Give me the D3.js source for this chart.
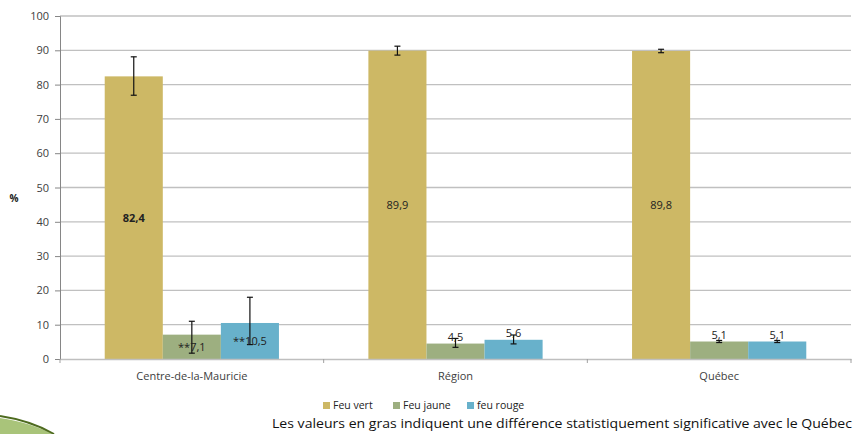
<!DOCTYPE html>
<html><head><meta charset="utf-8">
<script src="https://cdn.jsdelivr.net/npm/d3@7"></script>
<style>body{margin:0;background:#fff;}svg{display:block;font-family:"Open Sans",sans-serif;}</style>
</head><body><svg id="c" width="856" height="434"></svg>
<script>
const categories = ["Centre-de-la-Mauricie", "Région", "Québec"];
const series = ["Feu vert", "Feu jaune", "feu rouge"];
const colors = ["#CDB865", "#9DAF80", "#68B1CB"];
const feuVert = [82.4, 89.9, 89.8];
const feuJaune = [7.1, 4.5, 5.1];
const feuRouge = [10.5, 5.6, 5.1];
const errLow = [[76.9, 88.6, 89.3], [1.7, 3.4, 4.8], [4.2, 4.4, 4.8]];
const errHigh = [[88.1, 91.2, 90.3], [11.0, 6.0, 5.4], [18.0, 7.0, 5.4]];
const labels = [["82,4", "89,9", "89,8"], ["**7,1", "4,5", "5,1"], ["**10,5", "5,6", "5,1"]];
const bold = [[true, false, false], [false, false, false], [false, false, false]];
const yTicks = [0, 10, 20, 30, 40, 50, 60, 70, 80, 90, 100];
const values = [feuVert, feuJaune, feuRouge];
const footnote = "Les valeurs en gras indiquent une différence statistiquement significative avec le Québec";

const svg = d3.select("#c");
const m = {l: 60, r: 851, t: 16, b: 359};
const x0 = d3.scaleBand().domain(categories).range([m.l, m.r]).paddingInner(0).paddingOuter(0);
const x1 = d3.scaleBand().domain(series).range([0, x0.bandwidth()]).paddingInner(0).paddingOuter(0.77);
const y = d3.scaleLinear().domain([0, 100]).range([m.b, m.t]);

// decorative swoosh
svg.append("path").attr("d", "M0,418 C20,421 40,427 52,434 L0,434 Z").attr("fill", "#A9C47A");
svg.append("path").attr("d", "M0,416 C20,419 40,426 54,434").attr("fill", "none").attr("stroke", "#4E6B1F").attr("stroke-width", 2);

// grid
svg.append("g").selectAll("line").data(yTicks.filter(d => d > 0)).join("line")
  .attr("x1", m.l).attr("x2", m.r).attr("y1", d => y(d)).attr("y2", d => y(d))
  .attr("stroke", "#C0C0C0").attr("stroke-width", 1.3);

// y axis
const ya = svg.append("g").attr("transform", `translate(${m.l},0)`)
  .call(d3.axisLeft(y).tickValues(yTicks).tickSize(5).tickPadding(6));
ya.select(".domain").attr("stroke", "#868686");
ya.selectAll(".tick line").attr("stroke", "#868686");
ya.selectAll("text").attr("fill", "#404040").style("font-size", "11px").style("font-family", "Open Sans");

// bars
series.forEach((s, si) => {
  const g = svg.append("g");
  g.selectAll("rect").data(categories).join("rect")
    .attr("x", c => x0(c) + x1(s)).attr("width", x1.bandwidth())
    .attr("y", (c, i) => y(values[si][i])).attr("height", (c, i) => y(0) - y(values[si][i]))
    .attr("fill", colors[si]);
});

// x axis
const xa = svg.append("g").attr("transform", `translate(0,${m.b})`)
  .call(d3.axisBottom(x0).tickSize(0).tickPadding(13));
xa.select(".domain").attr("stroke", "#BFBFBF").attr("stroke-width", 1.5);
xa.selectAll("text").attr("fill", "#404040").style("font-size", "11px").style("font-family", "Open Sans");
svg.append("g").selectAll("line").data([m.l, ...categories.map(c => x0(c) + x0.bandwidth())]).join("line")
  .attr("x1", d => d).attr("x2", d => d).attr("y1", m.b).attr("y2", m.b + 4)
  .attr("stroke", "#A0A0A0");

// error bars
series.forEach((s, si) => {
  categories.forEach((c, i) => {
    const cx = x0(c) + x1(s) + x1.bandwidth() / 2;
    const g = svg.append("g").attr("stroke", "#111").attr("stroke-width", 1.2);
    g.append("line").attr("x1", cx).attr("x2", cx).attr("y1", y(errLow[si][i])).attr("y2", y(errHigh[si][i]));
    g.append("line").attr("x1", cx - 3).attr("x2", cx + 3).attr("y1", y(errLow[si][i])).attr("y2", y(errLow[si][i]));
    g.append("line").attr("x1", cx - 3).attr("x2", cx + 3).attr("y1", y(errHigh[si][i])).attr("y2", y(errHigh[si][i]));
  });
});

// data labels
series.forEach((s, si) => {
  categories.forEach((c, i) => {
    const v = values[si][i];
    const cx = x0(c) + x1(s) + x1.bandwidth() / 2;
    const inside = (y(0) - y(v)) > 20;
    const ty = inside ? (y(v) + y(0)) / 2 + 4 : y(v) - 3;
    svg.append("text").attr("x", cx).attr("y", ty).attr("text-anchor", "middle")
      .attr("fill", "#222").style("font-size", "11px")
      .style("font-weight", bold[si][i] ? "bold" : "normal").text(labels[si][i]);
  });
});

// y label
svg.append("text").attr("x", 14).attr("y", 202).attr("text-anchor", "middle")
  .style("font-size", "10px").style("font-weight", "bold").attr("fill", "#222").text("%");

// legend
const legX = [323, 393, 467];
series.forEach((s, si) => {
  svg.append("rect").attr("x", legX[si]).attr("y", 402).attr("width", 7).attr("height", 7).attr("fill", colors[si]);
  svg.append("text").attr("x", legX[si] + 10).attr("y", 409).style("font-size", "10.5px")
    .attr("fill", "#222").text(s);
});

// footnote
svg.append("text").attr("x", 272).attr("y", 428).style("font-size", "13px").attr("fill", "#111")
  .attr("textLength", 580).attr("lengthAdjust", "spacingAndGlyphs").text(footnote);
</script></body></html>
